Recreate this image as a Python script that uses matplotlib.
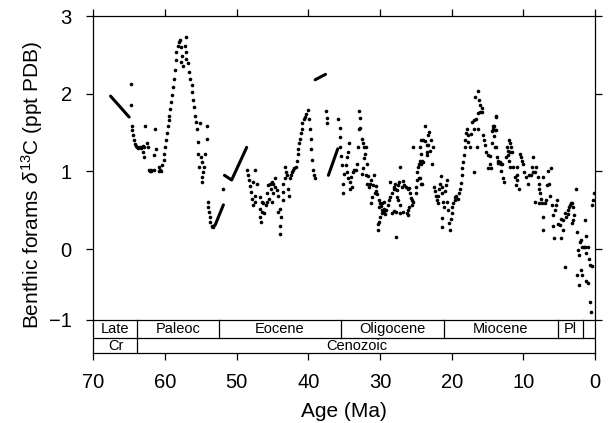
import numpy as np
import matplotlib.pyplot as plt

plt.rcParams['font.family'] = ['Liberation Sans', 'DejaVu Sans']
plt.rcParams['mathtext.fontset'] = 'custom'
plt.rcParams['mathtext.rm'] = 'Liberation Sans'
plt.rcParams['mathtext.it'] = 'Liberation Sans:italic'

# === Data: [age (Ma), benthic d13C (ppt PDB)] ===
pts_k_paleoc = np.array([
    [64.8, 2.12], [64.7, 1.85], [64.6, 1.59], [64.55, 1.53], [64.5, 1.47], [64.3, 1.40],
    [64.2, 1.35], [64.1, 1.33], [63.9, 1.31], [63.7, 1.30], [63.5, 1.32], [63.3, 1.30],
    [63.1, 1.33], [62.9, 1.31], [62.8, 1.59], [62.5, 1.36], [62.4, 1.31], [61.4, 1.54],
    [61.25, 1.29], [61.5, 1.21], [63.0, 1.25], [62.9, 1.19], [62.2, 1.02], [62.1, 1.01],
    [62.0, 1.02], [61.9, 1.01], [61.6, 1.02], [60.9, 1.06], [60.8, 1.01], [60.7, 1.02],
    [60.6, 1.00], [60.45, 1.08],
])

pts_paleoc_peak = np.array([
    [60.2, 1.15], [60.1, 1.23], [60.0, 1.32], [59.9, 1.40], [59.75, 1.49], [59.6, 1.58],
    [59.5, 1.66], [59.45, 1.72], [59.3, 1.81], [59.15, 1.89], [59.0, 1.98], [58.85, 2.09],
    [58.75, 2.19], [58.6, 2.30], [58.5, 2.43], [58.4, 2.54], [58.2, 2.62], [58.05, 2.66],
    [57.9, 2.69], [57.8, 2.60], [57.6, 2.49], [57.7, 2.41], [57.45, 2.36], [57.2, 2.62],
    [57.0, 2.73], [57.1, 2.54], [57.0, 2.45], [56.75, 2.39], [56.6, 2.28], [56.5, 2.19],
    [56.3, 2.11], [56.2, 2.02], [56.05, 1.92], [55.95, 1.83], [55.8, 1.72], [55.7, 1.64],
    [55.6, 1.54], [55.45, 1.38], [55.35, 1.23], [55.25, 1.06], [55.1, 1.62], [54.2, 1.59],
    [54.2, 1.42], [55.0, 1.19], [54.4, 1.23], [54.9, 1.12], [54.5, 1.06], [54.65, 0.99],
    [54.8, 0.93], [54.8, 0.86],
])

pts_petm = np.array([
    [54.05, 0.61], [53.95, 0.54], [53.85, 0.48], [53.75, 0.42], [53.7, 0.35], [53.5, 0.30],
    [53.25, 0.28], [51.85, 0.78],
])

pts_eocene = np.array([
    [48.5, 1.02], [47.4, 1.02], [48.4, 0.95], [48.3, 0.89], [47.7, 0.87], [47.2, 0.84],
    [48.1, 0.81], [48.0, 0.74], [47.5, 0.69], [47.9, 0.65], [47.4, 0.61], [47.7, 0.57],
    [46.75, 0.67], [46.5, 0.61], [46.3, 0.59], [46.75, 0.52], [46.5, 0.48], [46.15, 0.47],
    [46.75, 0.42], [46.6, 0.35], [45.8, 0.72], [45.6, 0.82], [45.35, 0.84], [45.1, 0.87],
    [44.9, 0.84], [44.6, 0.91], [45.2, 0.78], [44.9, 0.72], [44.65, 0.80], [44.4, 0.76],
    [45.0, 0.61], [45.5, 0.65], [45.8, 0.61], [45.95, 0.57], [44.3, 0.69], [43.95, 0.52],
    [44.2, 0.48], [43.8, 0.42], [43.95, 0.30], [43.9, 0.20], [43.6, 0.63], [43.5, 0.74],
    [43.5, 0.84], [43.25, 0.91], [43.25, 1.06], [43.1, 0.99], [43.0, 0.95], [42.8, 0.78],
    [42.7, 0.69], [42.55, 0.91], [42.4, 0.95], [42.25, 0.99], [42.1, 1.02], [41.95, 1.04],
    [41.75, 1.06], [41.6, 1.14], [41.5, 1.23], [41.4, 1.29], [41.3, 1.36], [41.15, 1.42],
    [41.0, 1.49], [40.9, 1.55], [40.85, 1.62], [40.65, 1.67], [40.45, 1.70], [40.3, 1.74],
    [40.1, 1.79], [39.9, 1.67], [39.75, 1.55], [39.65, 1.42], [39.6, 1.29], [39.45, 1.15],
    [39.3, 1.02], [39.15, 0.95], [39.05, 0.91], [37.6, 1.78], [37.45, 1.69], [37.45, 1.62],
    [35.6, 1.32],
])

pts_oligocene = np.array([
    [35.8, 1.68], [35.65, 1.56], [35.6, 1.44], [35.45, 1.20], [35.35, 1.08], [35.2, 0.84],
    [35.1, 0.72], [35.0, 0.97], [34.8, 1.08], [34.65, 1.18], [34.5, 1.25], [34.3, 1.36],
    [34.65, 0.99], [34.4, 0.91], [34.2, 0.87], [34.05, 0.93], [33.95, 0.80], [34.2, 0.78],
    [33.7, 0.99], [33.6, 1.02], [33.4, 1.02], [33.25, 1.09], [33.1, 1.32], [32.95, 1.55],
    [32.8, 1.56], [32.95, 1.78], [32.8, 1.69], [32.55, 1.42], [32.35, 1.37], [32.2, 1.31],
    [32.0, 1.31], [32.1, 1.23], [32.2, 1.17], [32.35, 1.04], [32.55, 0.97], [31.75, 1.10],
    [31.9, 0.96], [31.65, 0.94], [31.4, 0.84], [31.75, 0.84], [31.5, 0.80], [31.2, 0.89],
    [30.8, 0.95], [31.0, 0.82], [30.6, 0.81], [30.5, 0.75], [30.7, 0.72], [31.1, 0.67],
    [31.2, 0.60], [30.4, 0.71], [30.2, 0.63], [30.0, 0.59], [30.1, 0.54], [29.85, 0.55],
    [29.65, 0.60], [29.5, 0.61], [29.75, 0.50], [29.5, 0.52], [29.4, 0.49], [29.65, 0.46],
    [29.3, 0.45], [30.0, 0.42], [30.2, 0.35], [30.3, 0.32], [30.3, 0.24], [29.1, 0.51],
    [28.95, 0.57], [28.75, 0.63], [28.6, 0.67], [28.6, 0.87], [28.35, 0.72], [28.1, 0.77],
    [28.0, 0.80], [27.9, 0.84], [28.35, 0.47], [28.0, 0.49], [27.8, 0.15], [27.65, 0.67],
    [27.45, 0.63], [27.35, 0.87], [27.2, 1.06], [27.85, 0.78], [27.65, 0.76], [27.5, 0.82],
    [26.9, 0.80], [26.75, 0.88], [26.6, 0.82], [26.4, 0.80], [26.15, 0.78], [25.95, 0.79],
    [25.8, 0.72], [25.65, 0.66], [25.5, 0.63], [25.35, 0.61], [25.55, 0.57], [25.95, 0.54],
    [26.15, 0.50], [26.05, 0.44], [26.3, 0.46], [26.75, 0.48], [27.2, 0.47], [27.2, 0.57],
    [27.8, 0.48], [25.0, 0.72], [24.95, 0.80], [24.8, 0.89], [24.6, 0.92], [24.45, 0.91],
    [24.3, 0.84], [24.2, 0.84], [24.8, 0.99], [24.65, 1.06], [24.55, 1.10], [24.3, 1.09],
    [24.4, 1.14], [24.2, 1.13], [24.0, 1.12], [24.3, 1.23], [24.4, 1.31], [25.35, 1.31],
    [24.3, 1.41], [24.0, 1.41], [23.75, 1.39], [23.5, 1.34], [23.35, 1.47], [23.2, 1.51],
    [23.75, 1.59], [22.9, 1.40], [23.35, 1.34], [22.6, 1.31], [23.5, 1.25], [23.0, 1.26],
    [23.5, 1.21], [22.75, 1.09],
])

pts_miocene = np.array([
    [22.4, 0.80], [22.3, 0.75], [22.2, 0.69], [22.1, 0.63], [21.95, 0.60], [21.85, 0.68],
    [21.75, 0.77], [21.6, 0.84], [21.45, 0.94], [21.4, 0.80], [21.3, 0.72], [21.15, 0.61],
    [21.0, 0.54], [20.9, 0.75], [20.8, 0.82], [20.7, 0.89], [20.6, 0.61], [20.45, 0.50],
    [21.4, 0.40], [21.3, 0.29], [20.2, 0.24], [20.35, 0.33], [20.1, 0.39], [20.0, 0.47],
    [19.9, 0.54], [19.75, 0.60], [19.6, 0.63], [19.5, 0.67], [19.4, 0.69], [19.15, 0.65],
    [18.95, 0.72], [18.8, 0.78], [18.7, 0.85], [18.6, 0.95], [18.5, 1.04], [18.4, 1.12],
    [18.3, 1.21], [18.2, 1.31], [18.1, 1.41], [18.05, 1.49], [17.9, 1.54], [17.75, 1.47],
    [17.65, 1.38], [17.4, 1.32], [17.3, 1.48], [17.1, 1.64], [16.85, 1.66], [16.65, 1.67],
    [16.85, 1.54], [16.5, 1.31], [16.3, 1.55], [16.85, 0.99], [16.8, 1.96], [16.3, 2.04],
    [16.2, 1.92], [16.0, 1.85], [15.8, 1.82], [16.05, 1.76], [16.3, 1.75], [15.75, 1.76],
    [15.6, 1.47], [15.45, 1.41], [15.35, 1.34], [15.25, 1.25], [14.95, 1.21], [14.7, 1.20],
    [14.65, 1.10], [14.9, 1.04], [14.5, 1.04], [14.4, 1.52], [14.3, 1.58], [14.05, 1.59],
    [14.2, 1.54], [13.95, 1.53], [14.05, 1.45], [13.8, 1.70], [14.4, 1.37], [13.95, 1.31],
    [13.7, 1.19], [13.55, 1.14], [13.5, 1.11], [13.85, 1.71], [13.85, 1.53], [13.85, 1.31],
    [13.4, 1.11], [13.25, 1.12], [13.1, 1.09], [12.95, 1.10], [13.1, 1.01], [12.8, 0.92],
    [12.65, 0.87], [12.45, 1.19], [12.3, 1.31], [12.2, 1.26], [12.1, 1.21], [12.0, 1.40],
    [11.85, 1.36], [11.7, 1.31], [11.6, 1.25], [11.85, 1.25], [12.0, 1.14], [11.85, 1.06],
    [11.4, 1.06], [10.9, 1.06], [11.15, 0.93], [10.95, 0.89], [11.05, 0.82], [10.6, 0.77],
    [10.9, 0.95], [10.5, 1.23], [10.35, 1.18], [10.2, 1.14], [10.05, 1.10], [9.9, 0.99],
    [9.65, 0.93], [9.4, 0.84], [9.2, 0.95], [8.95, 0.96], [8.8, 1.06], [8.7, 1.19],
    [8.65, 0.99], [8.35, 0.99], [8.25, 1.06], [8.0, 0.93], [7.85, 0.84], [7.8, 0.78],
    [7.7, 0.72], [7.55, 0.65], [7.4, 0.59], [7.8, 0.60], [8.35, 0.61], [7.25, 0.93],
    [7.0, 0.60], [7.2, 0.42], [7.3, 0.24], [6.9, 0.63], [6.75, 0.82], [6.6, 1.01],
    [6.45, 0.84], [6.3, 0.69], [6.15, 1.04], [6.05, 0.57], [5.8, 0.44], [5.8, 0.30],
    [5.7, 0.14], [5.6, 0.50], [5.5, 0.57], [5.35, 0.63],
])

pts_plio_pleist = np.array([
    [5.1, 0.32], [4.9, 0.31], [4.8, 0.14], [4.75, 0.39], [4.5, 0.37], [4.4, 0.25],
    [4.2, -0.23], [4.1, 0.42], [4.2, 0.47], [3.8, 0.50], [3.75, 0.45], [3.65, 0.54],
    [3.5, 0.57], [3.4, 0.59], [3.2, 0.60], [3.05, 0.54], [2.95, 0.44], [3.05, 0.37],
    [3.2, 0.33], [2.7, 0.78], [2.55, 0.22], [2.4, -0.01], [2.3, -0.08], [2.1, 0.09],
    [1.95, 0.12], [1.75, 0.03], [1.6, 0.03], [1.45, 0.38], [1.35, 0.03], [1.3, -0.05],
    [1.2, 0.17], [1.0, 0.03], [0.85, -0.13], [0.7, -0.21], [0.45, -0.22], [2.55, -0.33],
    [2.3, -0.46], [1.95, -0.27], [1.75, -0.33], [1.2, -0.41], [1.0, -0.44], [0.7, -0.68],
    [0.55, -0.81], [0.45, 0.57], [0.25, 0.63], [0.1, 0.72],
])

# densely sampled intervals (dots merge into a line)
run_maastr = np.array([[67.6, 1.97], [65.0, 1.70]])
run_petm = np.array([[53.4, 0.28], [53.0, 0.31], [51.85, 0.57]])
run_eocene = np.array([[51.7, 0.95], [50.7, 0.89], [48.6, 1.31]])
run_bartonian = np.array([[39.05, 2.18], [37.6, 2.25]])
run_priabonian = np.array([[37.2, 0.95], [35.9, 1.29]])

# geologic time scale
epoch_edges = [70, 63.85, 52.5, 35.4, 21.1, 5.2, 1.65, 0]
epoch_names = ['Late', 'Paleoc', 'Eocene', 'Oligocene', 'Miocene', 'Pl', '']
era_edges = [70, 63.85, 0]
era_names = ['Cr', 'Cenozoic']

# === Plot ===
fig = plt.figure(figsize=(6.08, 4.23), dpi=100)
ax = fig.add_axes([0.1535, 0.1655, 0.8251, 0.7965])

y_top, y_mid, y_bot = -0.906, -1.144, -1.337

for pts in [pts_k_paleoc, pts_paleoc_peak, pts_petm, pts_eocene,
            pts_oligocene, pts_miocene, pts_plio_pleist]:
    ax.plot(pts[:, 0], pts[:, 1], 'o', color='black', ms=2.6, mew=0)

for run in [run_maastr, run_petm, run_eocene, run_bartonian, run_priabonian]:
    ax.plot(run[:, 0], run[:, 1], '-', color='black', lw=2.2, solid_capstyle='round')

# time scale boxes
lw = 0.9
ax.axhline(y_top, color='black', lw=lw)
ax.axhline(y_mid, color='black', lw=lw)
for e in epoch_edges[1:-1]:
    ax.plot([e, e], [y_top, y_mid], color='black', lw=lw)
for e in era_edges[1:-1]:
    ax.plot([e, e], [y_mid, y_bot], color='black', lw=lw)
for i, name in enumerate(epoch_names):
    xc = (epoch_edges[i] + epoch_edges[i + 1]) / 2
    ax.text(xc, (y_top + y_mid) / 2, name, ha='center', va='center', fontsize=10.5)
era_x = [66.9, 33.3]
for i, name in enumerate(era_names):
    ax.text(era_x[i], (y_mid + y_bot) / 2 - 0.005, name, ha='center', va='center', fontsize=10.5)

ax.set_xlim(70, 0)
ax.set_ylim(y_bot, 3)
ax.set_xticks(np.arange(0, 71, 10))
ax.set_yticks([y_top, 0, 1, 2, 3])
ax.set_yticklabels(['\u22121', '0', '1', '2', '3'])
ax.tick_params(axis='both', direction='out', length=5, width=lw, top=True, right=True,
               labelsize=14.5)
ax.tick_params(axis='x', pad=9.5)
ax.tick_params(axis='y', pad=10.5)
for s in ax.spines.values():
    s.set_linewidth(lw)

ax.set_xlabel('Age (Ma)', fontsize=15, labelpad=7)
ax.set_ylabel(r'Benthic forams $\delta^{13}$C (ppt PDB)', fontsize=15, labelpad=3)

fig.savefig('out.png', dpi=100)
